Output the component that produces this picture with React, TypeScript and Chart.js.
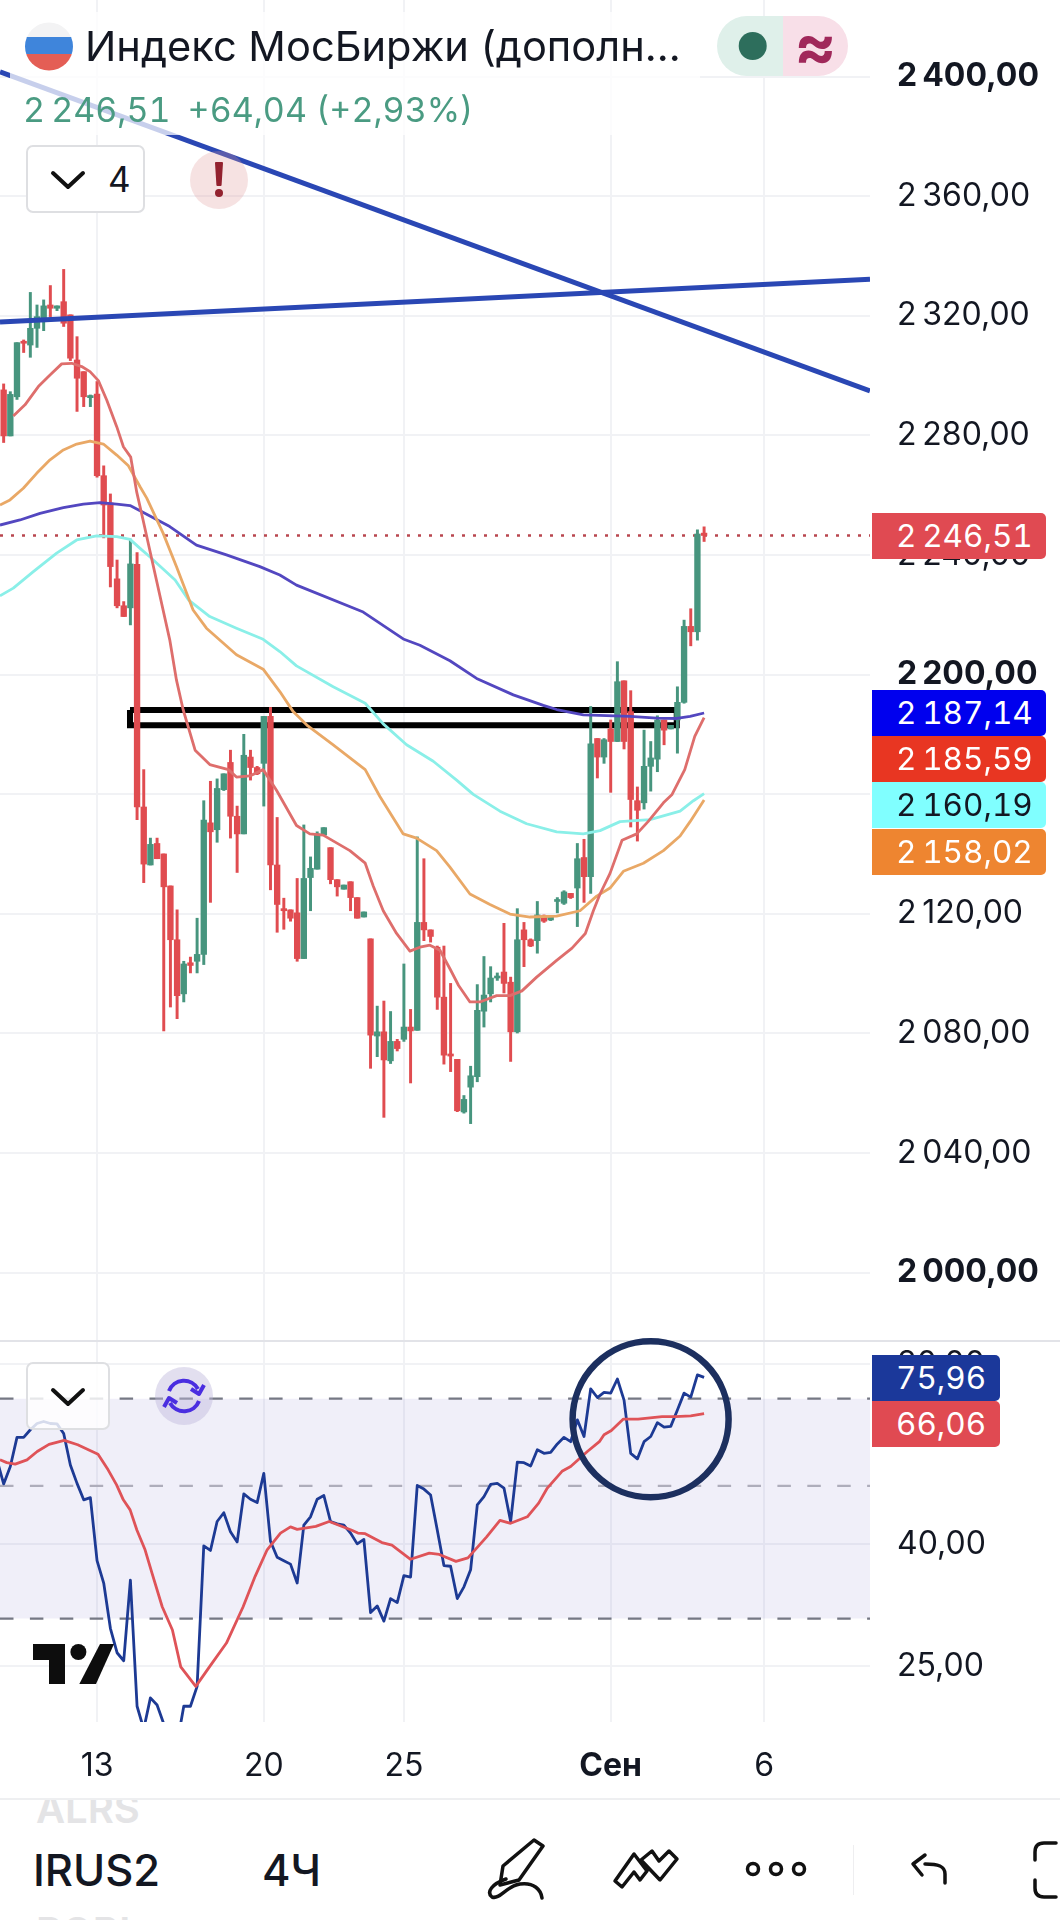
import React, { useEffect, useRef } from "react";
import { Chart, registerables } from "chart.js";

Chart.register(...registerables);

const xMin = -0.547;
const xMax = 129.87;

const candleOpen = [
  2295.2, 2279.8, 2292.9, 2311.3, 2310.2, 2315.8, 2318, 2323.6, 2322.5, 2324.7, 2320.3, 2305.2, 2301.3, 2292.6, 2293.8, 2266.5, 2257.4, 2232, 2223, 2222.3,
  2236.9, 2155.7, 2136.3, 2143.5, 2140, 2129.3, 2111.3, 2093.2, 2103.6, 2104.1, 2106.4, 2150.4, 2148.1, 2161.5, 2170.6, 2152.6, 2146.7, 2172.4, 2168.9, 2170.3,
  2186, 2136.3, 2121.7, 2121.3, 2120.3, 2105, 2132.1, 2134.9, 2146.3, 2142.1, 2131.4, 2128.2, 2130.7, 2125.4, 2118.9, 2111.6, 2079.1, 2080.5, 2070.8, 2077.3,
  2078, 2082.1, 2081, 2117.1, 2114.6, 2108.8, 2092.1, 2073.1, 2071.3, 2053.7, 2062, 2065.5, 2087.4, 2093.2, 2098.5, 2100.5, 2097.1, 2080.5, 2114.6, 2111.3,
  2111, 2119.3, 2117.9, 2124.1, 2123.5, 2126.8, 2128.6, 2138.8, 2132.4, 2178.6, 2172.4, 2181.8, 2177.6, 2197.9, 2187.6, 2157.8, 2157.1, 2169.3, 2171.7, 2184.8,
  2181.8, 2184.8, 2190.7, 2216.1, 2214.3, 2247.3,
];
const candleHigh = [
  2297.2, 2294.6, 2311, 2311.9, 2327.8, 2323.6, 2325.3, 2330.1, 2323.3, 2335.5, 2320.3, 2313, 2301.3, 2293.5, 2298, 2269.8, 2260.4, 2238.3, 2224.4, 2245.3,
  2240.8, 2168.2, 2145.3, 2145.3, 2140, 2129.3, 2121.3, 2104.1, 2105.5, 2118.5, 2157.8, 2164.3, 2165.1, 2166.8, 2174.7, 2156, 2180, 2174.7, 2169.3, 2186,
  2189, 2152.2, 2125.2, 2121.3, 2131.8, 2149.7, 2139, 2147.4, 2148.8, 2142.1, 2131.4, 2129.6, 2130.7, 2125.4, 2120.6, 2111.6, 2089.1, 2090.8, 2087.3, 2078,
  2103.2, 2088, 2145.7, 2138.4, 2114.6, 2109.2, 2109.2, 2096.7, 2071.3, 2059.2, 2069, 2096.3, 2105.7, 2102.3, 2100.2, 2116.8, 2098.8, 2121.7, 2117.1, 2111.6,
  2124.1, 2119.6, 2118.9, 2125.4, 2127.7, 2126.8, 2143.5, 2144.9, 2189.3, 2178.6, 2178.6, 2184.8, 2204.3, 2197.9, 2194.6, 2162.4, 2181.4, 2177.6, 2186.2, 2184.8,
  2183, 2195.9, 2218.2, 2222, 2248.4, 2249.4,
];
const candleLow = [
  2277.6, 2279.8, 2292, 2307.7, 2306.1, 2309.4, 2315, 2319.7, 2321.7, 2316.4, 2305, 2288, 2289.6, 2289.6, 2266, 2245.7, 2229.3, 2222.3, 2219.4, 2216.6,
  2151.5, 2130.4, 2136.3, 2138.4, 2080.8, 2088.8, 2084.9, 2090.5, 2100.2, 2100.2, 2103, 2123.8, 2143.9, 2161.2, 2145.3, 2133.8, 2146.7, 2164.7, 2166.5, 2156,
  2128, 2113.8, 2114.8, 2117.5, 2104.1, 2105, 2121, 2134.9, 2146.3, 2130, 2125.9, 2128.2, 2121, 2118.5, 2118.9, 2068.3, 2072.2, 2051.9, 2069.9, 2074.1,
  2077.3, 2063.4, 2081, 2111, 2110.5, 2088, 2069.7, 2067.2, 2053.8, 2053.3, 2049.8, 2063.8, 2082.1, 2090.5, 2097.7, 2093.5, 2070.6, 2080.1, 2102.3, 2109,
  2106.8, 2117.1, 2117.7, 2120.3, 2123.1, 2125.1, 2115.7, 2123.8, 2126.8, 2165.4, 2170.3, 2160.6, 2177.6, 2175.1, 2149, 2144.3, 2155, 2161, 2167.5, 2176.5,
  2181.8, 2173.7, 2190.4, 2209.6, 2211.5, 2244.5,
];
const candleClose = [
  2279.8, 2293.7, 2311, 2310.8, 2315.8, 2319.7, 2323.3, 2322.5, 2323.3, 2317.5, 2305.8, 2299.1, 2292.9, 2293.3, 2266.5, 2256.7, 2236.1, 2223, 2219.4, 2237,
  2155.7, 2136.6, 2143.2, 2138.4, 2129, 2111.3, 2092.6, 2103.2, 2102.7, 2106.4, 2151.3, 2147.4, 2161.9, 2166.8, 2152.6, 2146.7, 2173, 2168.9, 2166.8, 2186,
  2136.3, 2123.1, 2121, 2118.5, 2105, 2131.8, 2135.2, 2146.7, 2148.8, 2131.4, 2129, 2129.6, 2125.4, 2118.5, 2120.6, 2079.4, 2080.5, 2071.1, 2077.3, 2074.9,
  2082.1, 2080.8, 2117.1, 2114.6, 2112.4, 2092.1, 2072.7, 2072.4, 2054.1, 2057.9, 2065.8, 2087.7, 2092.8, 2098.5, 2099.1, 2096.7, 2080.5, 2111.3, 2111.3, 2109.2,
  2119.6, 2117.5, 2118.9, 2124.5, 2127.3, 2125.4, 2138.4, 2132.4, 2176.8, 2172.4, 2178.2, 2177.6, 2197.6, 2177.6, 2158.2, 2154.6, 2169.3, 2172.1, 2184.8, 2181.4,
  2183, 2190.7, 2216.1, 2214.3, 2247, 2246.51,
];

const maRedX = [1.45, 3.2, 5.2, 6.95, 8.7, 10.2, 11.7, 12.95, 14.2, 15.45, 16.95, 17.95, 19.05, 19.95, 20.9, 22.9, 24.9, 25.9, 26.9, 28.7, 30.9, 33.7, 34.9, 36.9, 38.9, 40.9, 43.9, 45.9, 47.9, 51.9, 54.2, 55.4, 56.9, 58.9, 60.9, 62.4, 63.9, 65.4, 66.9, 68.2, 69.9, 71.4, 73.9, 75.9, 77.7, 79.9, 82.9, 85.2, 87.2, 88.4, 89.4, 90.9, 92.7, 94.9, 96.6, 98.9, 100.2, 102.1, 103.6, 105];
const maRedY = [2286.5, 2290.2, 2296.3, 2300.2, 2303.9, 2304.1, 2303, 2301.3, 2298.3, 2291.8, 2282.9, 2276.2, 2272.7, 2261, 2251.7, 2231.6, 2211.6, 2198.2, 2188.3, 2174.7, 2169.9, 2168.2, 2165.7, 2166.1, 2168.2, 2161.3, 2149.5, 2146.7, 2146.3, 2141.1, 2136.9, 2129.3, 2121, 2113.4, 2107.5, 2108.8, 2109.5, 2107.8, 2101.6, 2096, 2090.5, 2090.5, 2092.6, 2092.6, 2094.2, 2098.8, 2104.4, 2108.5, 2113.4, 2121, 2126.6, 2133.5, 2144.6, 2146.7, 2150.8, 2157.1, 2159.9, 2168.2, 2179.3, 2185.59];

const maOrangeX = [-0.55, 0.95, 2.95, 4.95, 6.95, 8.95, 10.95, 12.95, 14.95, 16.95, 18.7, 20.45, 21.45, 23.9, 25.9, 28.4, 30.4, 34.9, 38.9, 41.4, 43.4, 45.6, 49.4, 54.2, 56.4, 59.9, 61.9, 64.9, 66.9, 69.9, 72.9, 75.9, 78.9, 82.9, 86.4, 88.9, 90.9, 92.9, 95.9, 98.9, 101.4, 102.9, 105];
const maOrangeY = [2256.7, 2258.4, 2262.3, 2267.3, 2271.8, 2275.1, 2277.1, 2278.1, 2277.1, 2273.4, 2269.8, 2262.8, 2259, 2247.3, 2236.1, 2221.6, 2215.5, 2206.6, 2201.8, 2194.3, 2187.6, 2182.8, 2176.5, 2168.2, 2159.2, 2146.7, 2145.3, 2141.1, 2135.6, 2126.6, 2123.1, 2119.9, 2118.9, 2119.2, 2121, 2125.9, 2128.6, 2134.2, 2136.9, 2141.1, 2146, 2150.8, 2158.02];

const maCyanX = [-0.55, 1.45, 4.45, 7.95, 10.95, 13.95, 16.95, 18.95, 20.45, 21.9, 25.7, 27.7, 30.9, 34.9, 38.9, 41.4, 43.9, 49.4, 54.2, 56.9, 60.4, 64.4, 67.9, 70.4, 74.4, 78.4, 82.9, 86.9, 89.4, 92.4, 96.9, 101.4, 103.4, 105];
const maCyanY = [2226.3, 2228.9, 2234.4, 2240.6, 2245, 2246.4, 2246.1, 2245.2, 2242.2, 2239.4, 2231.6, 2225, 2219.4, 2215.5, 2211.8, 2207.7, 2202.9, 2195.9, 2190.4, 2183.5, 2176.5, 2171, 2164.7, 2159.9, 2154.3, 2150.1, 2147.4, 2146.7, 2147.8, 2150.8, 2151.5, 2154.3, 2157.8, 2160.19];

const maPurpleX = [-0.55, 2.45, 5.45, 8.95, 11.95, 14.45, 16.95, 18.95, 20.45, 24.9, 28.9, 33.4, 38.4, 41.4, 43.9, 53.9, 59.9, 62.4, 66.9, 70.9, 76.4, 80.9, 82.9, 86.9, 93.9, 97.9, 100.9, 102.9, 105];
const maPurpleY = [2250, 2251.7, 2253.9, 2255.8, 2257, 2257.5, 2257, 2256.5, 2254.8, 2249.5, 2243.3, 2240, 2236.1, 2233.3, 2229.9, 2220.9, 2211.9, 2209.8, 2204.6, 2198.7, 2193.2, 2189.7, 2188.3, 2186.5, 2186, 2185.4, 2185.3, 2186, 2187.14];

const trendDownY = [2401.6, 2294.9];
const trendUpY = [2317.9, 2332.2];
const lastPrice = 2246.51;
const zoneX = [18.94, 100.9, 100.9, 18.94, 18.94];
const zoneY = [2188.1, 2188.1, 2183, 2183, 2188.1];

const rsiStart = -1;
const rsiBlue = [
  55.3, 50.4, 53.9, 60.3, 60.3, 62.1, 63.6, 64.1, 63.6, 63.5, 61.2, 54.2, 50.5, 47.4, 47.8, 37.5, 34.4, 28.9, 26.3, 25.5, 34.8,
  21.4, 19.6, 22.1, 21.5, 20, 18, 18.5, 21.4, 21.4, 23.1, 39.7, 39, 43.6, 45.1, 41.9, 40.3, 48.5, 47.5, 46.9, 52.5,
  40.4, 38, 37.5, 37, 34.4, 43, 44.4, 47.5, 48.2, 43.6, 43.2, 43, 41.7, 40, 40.7, 30.7, 31.5, 29.7, 32.4, 31.9,
  35.4, 35.2, 50.1, 49.4, 48.3, 42.2, 36.8, 36.7, 32.4, 33.9, 36.2, 46.5, 48, 50.3, 50.5, 49.6, 43.6, 54.8, 54.7, 54,
  57.5, 56.7, 56.9, 58.8, 60.3, 59.3, 64.5, 60.5, 72.7, 70.3, 71.7, 71.5, 75.5, 69.6, 56.7, 55.5, 59.3, 60.5, 63.8, 62.7,
  62.9, 67, 71.5, 70.4, 76.7, 75.96,
];
const rsiMaX = [-0.55, 0.47, 1.73, 3.5, 5.03, 6.8, 9.08, 11.1, 14.15, 15.66, 16.93, 17.94, 18.96, 19.97, 21.2, 22.25, 23.77, 25.3, 26.55, 28.8, 30.85, 33.4, 35.9, 37.7, 39.5, 41.5, 43, 44, 46.8, 48.8, 52.1, 53.1, 54.2, 56.7, 58.2, 61, 63.8, 65.3, 67.8, 69.6, 72.4, 74.4, 76, 78.5, 80.2, 81.5, 83.7, 85, 87.5, 89.3, 90, 91.1, 92.9, 95.1, 98.7, 100.7, 103, 105];
const rsiMaY = [55.3, 54.7, 54.4, 55.3, 57.1, 58.7, 59.6, 58.6, 56.5, 53.2, 50.2, 47.4, 45.6, 42.2, 39.1, 35.7, 31.4, 28.7, 24.9, 23.1, 24.9, 27.3, 31.4, 35.3, 39.1, 41.7, 42.7, 42.3, 42.8, 43.6, 42.2, 41.7, 41.6, 40.2, 39.8, 37.7, 38.6, 38.4, 37.4, 37.9, 41.1, 43.8, 43.3, 44.4, 46.8, 49.6, 52.9, 53.9, 57.1, 59.3, 60.9, 61.9, 64.7, 64.7, 65.3, 65.3, 65.5, 66.06];

const priceTicks = [2000, 2040, 2080, 2120, 2160, 2200, 2240, 2280, 2320, 2360, 2400];
const boldPriceTicks = [2000, 2200, 2400];
const rsiTicks = [25, 40, 80];
const rsiBands = [70, 50, 30];
const dateTickX = [14, 39, 60, 91, 114];
const dateTickLabels = ["13", "20", "25", "Сен", "6"];

const priceBadges = [
  { text: 2246.51, top: 513, bg: "#e04a52", fg: "#ffffff" },
  { text: 2187.14, top: 690, bg: "#0000ee", fg: "#ffffff" },
  { text: 2185.59, top: 736, bg: "#e83622", fg: "#ffffff" },
  { text: 2160.19, top: 782, bg: "#80ffff", fg: "#131722" },
  { text: 2158.02, top: 829, bg: "#ee8530", fg: "#ffffff" },
];
const rsiBadges = [
  { text: 75.96, top: 1355, bg: "#1b389a" },
  { text: 66.06, top: 1401, bg: "#e04a52" },
];

const FONT = "Inter, 'Noto Sans', sans-serif";
const GREEN = "#47957e";
const RED = "#e04c50";
const TEXT = "#131722";
const GRID = "#f1f2f5";
const NNBSP = "\u202f";

function fmt(v: number): string {
  const s = v.toFixed(2).replace(".", ",");
  const [a, b] = s.split(",");
  if (a.length > 3) return a.slice(0, a.length - 3) + NNBSP + a.slice(-3) + "," + b;
  return s;
}

const points = (xs: number[], ys: number[]) => xs.map((x, i) => ({ x, y: ys[i] }));

function lineSet(data: any[], color: string, width: number, order: number, extra: any = {}) {
  return {
    type: "line",
    data,
    borderColor: color,
    borderWidth: width,
    pointRadius: 0,
    tension: 0,
    fill: false,
    order,
    borderJoinStyle: "round",
    ...extra,
  };
}

const zeroPad = (axis: any) => {
  axis.paddingTop = 0;
  axis.paddingBottom = 0;
  axis.paddingLeft = 0;
  axis.paddingRight = 0;
};

const xScale = (labels: boolean) => ({
  type: "linear",
  min: xMin,
  max: xMax,
  offset: false,
  border: { display: false },
  grid: { color: GRID, lineWidth: 2, drawTicks: false, offset: false },
  afterBuildTicks: (axis: any) => {
    axis.ticks = dateTickX.map((value) => ({ value }));
  },
  afterFit: (axis: any) => {
    axis.height = labels ? 78 : 0;
    zeroPad(axis);
  },
  ticks: {
    display: labels,
    autoSkip: false,
    maxRotation: 0,
    padding: 25,
    color: TEXT,
    font: (ctx: any) => ({
      family: FONT,
      size: 32,
      weight: ctx.index === 3 ? "700" : "400",
    }),
    callback: (_v: any, i: number) => dateTickLabels[i],
  },
});

const yAfterFit = (axis: any) => {
  axis.width = 190;
  zeroPad(axis);
};

function useCharts(priceRef: any, rsiRef: any) {
  useEffect(() => {
    document.body.style.margin = "0";
    document.body.style.background = "#ffffff";
    const wicks = candleHigh.map((h, i) => ({ x: i, y: [candleLow[i], h] }));
    const bodies = candleOpen.map((o, i) => ({ x: i, y: [Math.min(o, candleClose[i]), Math.max(o, candleClose[i])] }));
    const colors = candleOpen.map((o, i) => (candleClose[i] >= o ? GREEN : RED));

    const price = new Chart(priceRef.current, {
      type: "bar",
      data: {
        datasets: [
          lineSet(points([xMin, xMax], [lastPrice, lastPrice]), "#b9474f", 2.5, 9, { borderDash: [3, 8], borderCapStyle: "butt" }),
          lineSet(points(zoneX, zoneY), "#000000", 6, 10, { borderJoinStyle: "miter" }),
          { type: "bar", data: wicks, backgroundColor: colors, barThickness: 2.3, grouped: false, order: 8, minBarLength: 2, borderWidth: 0 },
          { type: "bar", data: bodies, backgroundColor: colors, barThickness: 5.7, grouped: false, order: 7, minBarLength: 2, borderWidth: 0 },
          lineSet(points(maPurpleX, maPurpleY), "#5347c0", 2.8, 6),
          lineSet(points(maCyanX, maCyanY), "#8aefe8", 2.8, 5),
          lineSet(points(maOrangeX, maOrangeY), "#e9a866", 2.8, 4),
          lineSet(points(maRedX, maRedY), "#de6e6c", 2.8, 3),
          lineSet(points([xMin, xMax], trendDownY), "#2a47b4", 5, 2),
          lineSet(points([xMin, xMax], trendUpY), "#2a47b4", 5, 1),
        ],
      } as any,
      options: {
        responsive: false,
        animation: false,
        indexAxis: "x",
        layout: { padding: 0 },
        plugins: { legend: { display: false }, tooltip: { enabled: false } },
        scales: {
          x: xScale(false),
          y: {
            type: "linear",
            position: "right",
            min: 1977.1,
            max: 2425.6,
            border: { display: false },
            grid: { color: GRID, lineWidth: 2, drawTicks: false },
            afterFit: yAfterFit,
            afterBuildTicks: (axis: any) => {
              axis.ticks = priceTicks.map((value) => ({ value }));
            },
            ticks: {
              padding: 27,
              color: TEXT,
              font: (ctx: any) => ({
                family: FONT,
                size: 32,
                weight: boldPriceTicks.includes(ctx.tick?.value) ? "700" : "400",
              }),
              callback: (v: any) => fmt(Number(v)),
            },
          },
        },
      } as any,
    });

    const bandColors = ["#757884", "#aeadbb", "#757884"];
    const rsi = new Chart(rsiRef.current, {
      type: "line",
      data: {
        datasets: [
          lineSet(points([xMin, xMax], [rsiBands[0], rsiBands[0]]), "rgba(0,0,0,0)", 0, 20, {
            fill: { value: rsiBands[2] },
            backgroundColor: "rgba(115,100,195,0.105)",
          }),
          ...rsiBands.map((b, i) =>
            lineSet(points([xMin, xMax], [b, b]), bandColors[i], 2.2, 10 + i, { borderDash: [13.5, 16.4], borderCapStyle: "butt" })
          ),
          lineSet(
            rsiBlue.map((y, i) => ({ x: i + rsiStart, y })),
            "#1d3a94",
            2.8,
            2
          ),
          lineSet(points(rsiMaX, rsiMaY), "#df5358", 2.8, 1),
        ],
      } as any,
      options: {
        responsive: false,
        animation: false,
        layout: { padding: 0 },
        plugins: { legend: { display: false }, tooltip: { enabled: false } },
        scales: {
          x: xScale(true),
          y: {
            type: "logarithmic",
            position: "right",
            min: 20.14,
            max: 87.4,
            border: { display: false },
            grid: { color: GRID, lineWidth: 2, drawTicks: false },
            afterFit: yAfterFit,
            afterBuildTicks: (axis: any) => {
              axis.ticks = rsiTicks.map((value) => ({ value }));
            },
            ticks: {
              padding: 27,
              color: TEXT,
              autoSkip: false,
              font: { family: FONT, size: 32, weight: "400" },
              callback: (v: any) => fmt(Number(v)),
            },
          },
        },
      } as any,
    });

    return () => {
      price.destroy();
      rsi.destroy();
    };
  }, []);
}

const abs = (left: number, top: number, width: number, height: number, extra: any = {}) => ({
  position: "absolute" as const,
  left,
  top,
  width,
  height,
  ...extra,
});

function Badge({ left, top, width, bg, fg, children }: any) {
  return (
    <div
      style={abs(left, top, width, 46, {
        background: bg,
        color: fg,
        borderRadius: "0 5px 5px 0",
        fontFamily: FONT,
        fontSize: 31.5,
        fontVariantNumeric: "tabular-nums",
        lineHeight: "46px",
        paddingLeft: 24,
        boxSizing: "border-box",
        whiteSpace: "nowrap",
      })}
    >
      {children}
    </div>
  );
}

export default function App() {
  const priceRef = useRef<HTMLCanvasElement>(null);
  const rsiRef = useRef<HTMLCanvasElement>(null);
  useCharts(priceRef, rsiRef);
  return (
    <div style={abs(0, 0, 1060, 1920, { background: "#fff", overflow: "hidden", fontFamily: FONT, color: TEXT })}>
      <canvas ref={priceRef} width={1060} height={1341} style={abs(0, 0, 1060, 1341, { display: "block" })} />
      <canvas ref={rsiRef} width={1060} height={459} style={abs(0, 1341, 1060, 459, { display: "block" })} />

      <div style={abs(0, 1340, 1060, 2, { background: "#e2e3e8" })} />
      <div style={abs(0, 1798, 1060, 2, { background: "#eeeff1" })} />

      <div style={abs(10, 12, 690, 123, { background: "rgba(255,255,255,0.74)" })} />

      {priceBadges.map((b) => (
        <Badge key={b.text} left={872} top={b.top} width={174} bg={b.bg} fg={b.fg}>
          {fmt(b.text)}
        </Badge>
      ))}
      {rsiBadges.map((b) => (
        <Badge key={b.text} left={872} top={b.top} width={128} bg={b.bg} fg="#ffffff">
          {fmt(b.text)}
        </Badge>
      ))}

      <div style={abs(85, 18, 620, 56, { fontSize: 41.6, lineHeight: "56px", whiteSpace: "nowrap" })}>Индекс МосБиржи (дополн...</div>
      <div style={abs(23, 88, 660, 44, { fontSize: 34, lineHeight: "44px", color: "#4a9b82", whiteSpace: "nowrap", fontVariantNumeric: "tabular-nums" })}>
        {fmt(lastPrice)}
        <span style={{ marginLeft: 17 }}>+64,04 (+2,93%)</span>
      </div>
      <div
        style={abs(26, 145, 119, 68, {
          border: "2px solid #dedfe2",
          borderRadius: 7,
          boxSizing: "border-box",
          background: "#fff",
        })}
      />
      <div style={abs(108, 155, 30, 48, { fontSize: 35, lineHeight: "48px" })}>4</div>
      <div style={abs(26, 1362, 84, 68, { border: "2px solid #dedfe2", borderRadius: 7, boxSizing: "border-box", background: "rgba(255,255,255,0.82)" })} />

      <div style={abs(36, 1800, 200, 24, { fontSize: 40, lineHeight: "17px", fontWeight: 600, color: "#e4e4e6", overflow: "hidden" })}>ALRS</div>
      <div style={abs(33, 1845, 170, 50, { fontSize: 43.5, lineHeight: "50px", fontWeight: 500 })}>IRUS2</div>
      <div style={abs(262, 1845, 80, 50, { fontSize: 43.5, lineHeight: "50px", fontWeight: 500 })}>4Ч</div>
      <div style={abs(36, 1916, 200, 10, { fontSize: 40, lineHeight: "31px", fontWeight: 600, color: "#e4e4e6", overflow: "hidden" })}>ROBL</div>

      <div style={abs(717, 16, 66, 60, { background: "#dff0ea", borderRadius: "30px 0 0 30px" })} />
      <div style={abs(783, 16, 65, 60, { background: "#f8dfe8", borderRadius: "0 30px 30px 0" })} />
      <div style={abs(783, 14, 65, 62, { color: "#a0285a", fontSize: 63, lineHeight: "62px", fontWeight: 700, textAlign: "center" })}>≈</div>

      <svg width={1060} height={1920} style={abs(0, 0, 1060, 1920, { pointerEvents: "none" })}>
        <clipPath id="flagClip">
          <circle cx={49} cy={46.5} r={24} />
        </clipPath>
        <g clipPath="url(#flagClip)">
          <rect x={24} y={22} width={50} height={15} fill="#f3f3f4" />
          <rect x={24} y={37} width={50} height={17} fill="#3f85db" />
          <rect x={24} y={54} width={50} height={18} fill="#e45e55" />
        </g>
        <circle cx={752.7} cy={46} r={14} fill="#2d6e5c" />

        <path d="M53 173 L68 187 L83 173" fill="none" stroke="#111" strokeWidth={4} strokeLinecap="round" strokeLinejoin="round" />
        <circle cx={219} cy={180} r={29} fill="rgba(222,150,150,0.28)" />
        <path d="M216 163 H222 L220.6 185 H217.4 Z" fill="#93222f" stroke="#93222f" strokeWidth={2} strokeLinejoin="round" />
        <circle cx={219} cy={193} r={4} fill="#93222f" />

        <path d="M53 1390 L68 1404 L83 1390" fill="none" stroke="#111" strokeWidth={4} strokeLinecap="round" strokeLinejoin="round" />
        <circle cx={184} cy={1396} r={29} fill="rgba(190,185,220,0.45)" />
        <g fill="none" stroke="#4a2ee0" strokeWidth={4} strokeLinejoin="round">
          <path d="M169 1391 A16 16 0 0 1 198 1389" />
          <path d="M199 1401 A16 16 0 0 1 170 1403" />
          <path d="M204 1385 L199 1394 L191 1389" />
          <path d="M164 1407 L169 1398 L177 1403" />
        </g>

        <g fill="#0d0d0d">
          <path d="M33 1644 H65 V1684 H49 V1660 H33 Z" />
          <circle cx={78.4} cy={1652} r={8} />
          <path d="M100 1644 H114 L96 1684 H79.3 Z" />
        </g>

        <circle cx={650.6} cy={1419.3} r={78} fill="none" stroke="#1c2f5f" strokeWidth={6.5} />

        <g fill="none" stroke="#111" strokeWidth={3.5} strokeLinejoin="round" strokeLinecap="round">
          <path d="M534 1840 L543 1846 L519 1880 L500 1885 L503 1866 Z" />
          <path d="M506 1879 C492 1884 486 1892 492 1897 C500 1900 506 1886 520 1884 C534 1882 541 1890 542 1898" />
          <path d="M615 1881 L634 1854 L647 1871 L640 1880 L634 1872 L622 1887 Z M641 1860 L652 1851 L659 1861 L669 1851 L677 1859 L660 1880 Z" />
          <circle cx={753} cy={1869} r={5.5} />
          <circle cx={776} cy={1869} r={5.5} />
          <circle cx={799} cy={1869} r={5.5} />
          <path d="M945 1883 V1874 C945 1866 938 1864 925 1864 M925 1855 L913 1864 L922 1875" />
          <path d="M1056 1843 H1044 Q1035 1843 1035 1852 V1860 M1035 1880 V1888 Q1035 1897 1044 1897 H1056" />
        </g>
        <rect x={853} y={1845} width={1} height={50} fill="#eeeef0" />
      </svg>
    </div>
  );
}
